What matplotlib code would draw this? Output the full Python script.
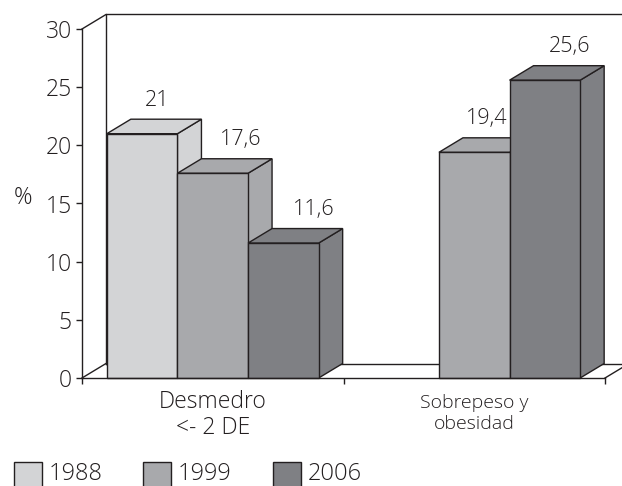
import matplotlib.pyplot as plt
from matplotlib.patches import Polygon, Rectangle

# Data
categories = ["Desmedro\n<- 2 DE", "Sobrepeso y\nobesidad"]
years = ["1988", "1999", "2006"]
v1988 = [21, None]
v1999 = [17.6, 19.4]
v2006 = [11.6, 25.6]
series = [v1988, v1999, v2006]

colors = ["#d3d4d6", "#a8a9ac", "#7f8084"]
edge = "#231f20"
font = "Open Sans"
fw = "light"

W, H = 622, 486
fig = plt.figure(figsize=(W / 100, H / 100), dpi=100)
# axes placed in pixels: x 82..605, y(top) 29..378
ax = fig.add_axes([82 / W, (H - 378) / H, 523 / W, 349 / H])
ax.set_xlim(0, 2)
ax.set_ylim(0, 30)

# oblique depth in data units (24 px right, 14.5 px up)
dx = 24 / 261.5
dy = 14.5 / (349 / 30)

def poly(pts, fc="white", z=1):
    ax.add_patch(Polygon(pts, closed=True, facecolor=fc, edgecolor=edge,
                         linewidth=1.0, clip_on=False, zorder=z, joinstyle="miter"))

# back wall and floor
ax.plot([dx, dx, 2.3], [dy, 30 + dy, 30 + dy], color=edge, lw=1.0, clip_on=False, zorder=1)
ax.plot([0, dx], [30, 30 + dy], color=edge, lw=1.0, clip_on=False, zorder=1)
ax.plot([0, dx], [0, dy], color=edge, lw=1.0, clip_on=False, zorder=1)
ax.plot([dx, 2 + dx + 0.2], [dy, dy], color=edge, lw=1.0, clip_on=False, zorder=1)
ax.plot([2, 2 + dx], [0, dy], color=edge, lw=1.0, clip_on=False, zorder=1)

bw = 0.27
label_dx = [[0.01, None], [0.06, 0.0], [0.07, 0.05]]
z = 2
for ci in range(len(categories)):
    start = ci + 0.5 - 1.5 * bw
    for si, vals in enumerate(series):
        v = vals[ci]
        if v is None:
            continue
        x0 = start + si * bw
        x1 = x0 + bw
        c = colors[si]
        poly([(x1, 0), (x1 + dx, dy), (x1 + dx, v + dy), (x1, v)], c, z)
        poly([(x0, v), (x1, v), (x1 + dx, v + dy), (x0 + dx, v + dy)], c, z)
        poly([(x0, 0), (x1, 0), (x1, v), (x0, v)], c, z)
        z += 1
        ax.annotate(f"{v:g}".replace(".", ","),
                    (x0 + bw / 2 + dx / 2 + label_dx[si][ci], v + dy),
                    xytext=(0, 6), textcoords="offset points",
                    ha="center", va="bottom", fontsize=15.5, family=font,
                    fontweight=fw, color="#231f20", zorder=20)

# axes styling
for s in ["top", "right"]:
    ax.spines[s].set_visible(False)
for s in ["left", "bottom"]:
    ax.spines[s].set_color(edge)
    ax.spines[s].set_linewidth(1.0)
    ax.spines[s].set_zorder(30)
ax.set_yticks(range(0, 31, 5))
ax.tick_params(axis="y", length=4.5, width=1.0, color=edge, pad=3,
               labelsize=16.5, labelcolor="#231f20")
ax.set_xticks([0, 1, 2])
ax.set_xticklabels([])
ax.tick_params(axis="x", length=4.5, width=1.0, color=edge)
for lab in ax.get_yticklabels():
    lab.set_family(font)
    lab.set_fontweight(fw)

ax.text(0.5, -0.035, categories[0], transform=ax.get_xaxis_transform(),
        ha="center", va="top", fontsize=16.5, family=font, fontweight=fw,
        linespacing=1.1, color="#231f20")
ax.text(1.5, -0.045, categories[1], transform=ax.get_xaxis_transform(),
        ha="center", va="top", fontsize=14, family=font, fontweight=fw,
        linespacing=1.2, color="#231f20")

fig.text(23 / W, 1 - 198 / H, "%", ha="center", va="center", fontsize=16.5,
         family=font, fontweight=fw, color="#231f20")

# legend
for i, yr in enumerate(years):
    lx = [14, 143, 273][i]
    fig.patches.append(Rectangle((lx / W, -4 / H), 28 / W, 28 / H,
                                 transform=fig.transFigure, facecolor=colors[i],
                                 edgecolor=edge, linewidth=1.0))
    fig.text((lx + 35) / W, 12 / H, yr, ha="left", va="center", fontsize=17,
             family=font, fontweight=fw, color="#231f20")

fig.savefig("out.png", dpi=100)
